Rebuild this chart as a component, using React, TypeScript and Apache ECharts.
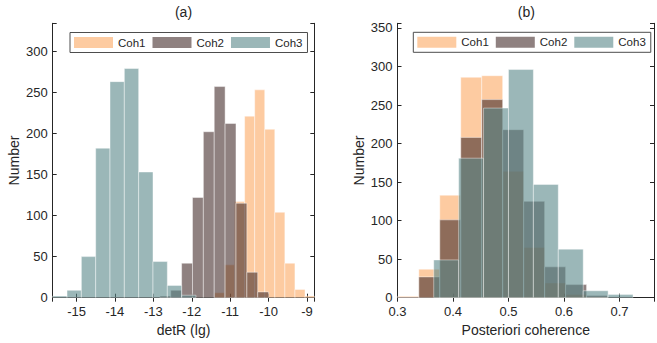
import React, { useEffect, useRef } from 'react';
import * as echarts from 'echarts';

// ---- Panel (a): detR (lg) histograms ----
const aCoh1Edges = [-11.41, -11.148, -10.886, -10.624, -10.362, -10.1, -9.838, -9.576, -9.314, -9.052, -8.79];
const aCoh1Counts = [6, 40, 117, 221, 253, 205, 104, 42, 10, 2];
const aCoh2Edges = [-12.83, -12.547, -12.264, -11.981, -11.698, -11.415, -11.132, -10.849, -10.566, -10.283, -10.0];
const aCoh2Counts = [2, 9, 42, 122, 202, 257, 212, 115, 31, 7];
const aCoh3Edges = [-15.62, -15.247, -14.874, -14.501, -14.128, -13.755, -13.382, -13.009, -12.636, -12.263, -11.89];
const aCoh3Counts = [2, 9, 50, 182, 263, 279, 153, 44, 15, 3];

// ---- Panel (b): posteriori coherence histograms ----
const bCoh12Edges = [0.3006, 0.3384, 0.3762, 0.414, 0.4518, 0.4896, 0.5274, 0.5652, 0.603, 0.6408, 0.6786];
const bCoh1Counts = [2, 37, 133, 286, 288, 164, 65, 19, 4, 1];
const bCoh2Counts = [1, 27, 101, 208, 257, 218, 125, 40, 17, 3];
const bCoh3Edges = [0.3653, 0.4102, 0.4551, 0.5, 0.5449, 0.5898, 0.6347, 0.6796, 0.7245];
const bCoh3Counts = [49, 181, 246, 296, 147, 63, 9, 4];

const seriesNames = ['Coh1', 'Coh2', 'Coh3'];
const titles = ['(a)', '(b)'];
const xNames = ['detR (lg)', 'Posteriori coherence'];
const yName = 'Number';

const FONT = '"Liberation Sans", Arial, Helvetica, sans-serif';
const INK = '#262626';
const COLORS = ['rgba(252,168,98,0.6)', 'rgba(68,45,43,0.6)', 'rgba(88,135,137,0.6)'];
const EDGE = 'rgba(255,255,255,0.55)';

function histSeries(name: string, edges: number[], counts: number[], color: string, axisIndex: number) {
  const data = counts.map((c, i) => [edges[i], edges[i + 1], c]);
  return {
    type: 'custom',
    name,
    xAxisIndex: axisIndex,
    yAxisIndex: axisIndex,
    data,
    itemStyle: { color },
    encode: { x: [0, 1], y: 2 },
    clip: true,
    renderItem: (params: any, api: any) => {
      const p0 = api.coord([api.value(0), api.value(2)]);
      const p1 = api.coord([api.value(1), 0]);
      const cs = params.coordSys;
      const shape = echarts.graphic.clipRectByRect(
        { x: p0[0], y: p0[1], width: p1[0] - p0[0], height: p1[1] - p0[1] },
        { x: cs.x, y: cs.y, width: cs.width, height: cs.height }
      );
      if (!shape) return null;
      return {
        type: 'rect',
        shape,
        style: { fill: color, stroke: EDGE, lineWidth: 0.8 },
      };
    },
  };
}

const isMult = (v: number, step: number) => Math.abs(v / step - Math.round(v / step)) < 1e-6;

export default function App() {
  const ref = useRef<HTMLDivElement>(null);

  useEffect(() => {
    if (!ref.current) return;
    const chart = echarts.init(ref.current, null, { renderer: 'svg' });

    const axisLine = { show: true, lineStyle: { color: INK, width: 1 } };
    const tickIn = { show: true, inside: true, length: 4, lineStyle: { color: INK, width: 1 } };
    const labelStyle = { fontFamily: FONT, fontSize: 13, color: INK };

    const grids = [
      { left: 52.7, top: 23.3, width: 261.6, height: 274.4 },
      { left: 397.5, top: 23.3, width: 257.5, height: 274.4 },
    ];

    const xRanges = [
      { min: -15.62, max: -8.81, step: 1, fmt: (v: number) => (isMult(v, 1) ? String(Math.round(v)) : '') },
      { min: 0.3, max: 0.7623, step: 0.1, fmt: (v: number) => (isMult(v, 0.1) ? (Math.round(v * 10) / 10).toFixed(1) : '') },
    ];
    const yRanges = [
      { min: 0, max: 334, step: 50 },
      { min: 0, max: 356, step: 50 },
    ];

    const xAxis: any[] = [];
    const yAxis: any[] = [];
    [0, 1].forEach((g) => {
      const xr = xRanges[g];
      const yr = yRanges[g];
      xAxis.push({
        type: 'value', gridIndex: g, position: 'bottom', min: xr.min, max: xr.max,
        minInterval: xr.step, maxInterval: xr.step,
        axisLine, axisTick: tickIn, splitLine: { show: false },
        axisLabel: { ...labelStyle, margin: 7, formatter: xr.fmt },
        name: xNames[g], nameLocation: 'middle', nameGap: 24,
        nameTextStyle: { fontFamily: FONT, fontSize: 14, color: INK },
      });
      xAxis.push({
        type: 'value', gridIndex: g, position: 'top', min: xr.min, max: xr.max,
        minInterval: xr.step, maxInterval: xr.step,
        axisLine, axisTick: tickIn, splitLine: { show: false }, axisLabel: { show: false },
      });
      const yfmt = (v: number) => (isMult(v, yr.step) ? String(Math.round(v)) : '');
      yAxis.push({
        type: 'value', gridIndex: g, position: 'left', min: yr.min, max: yr.max,
        minInterval: yr.step, maxInterval: yr.step,
        axisLine, axisTick: tickIn, splitLine: { show: false },
        axisLabel: { ...labelStyle, margin: 5, formatter: yfmt },
        name: yName, nameLocation: 'middle', nameGap: 32, nameRotate: 90,
        nameTextStyle: { fontFamily: FONT, fontSize: 14, color: INK },
      });
      yAxis.push({
        type: 'value', gridIndex: g, position: 'right', min: yr.min, max: yr.max,
        minInterval: yr.step, maxInterval: yr.step,
        axisLine, axisTick: tickIn, splitLine: { show: false }, axisLabel: { show: false },
      });
    });

    // series bound to bottom x (index 0 / 2) and left y (index 0 / 2)
    const mk = (name: string, edges: number[], counts: number[], color: string, g: number) => {
      const s: any = histSeries(name, edges, counts, color, g * 2);
      return s;
    };

    const legendBase = {
      data: seriesNames,
      orient: 'horizontal',
      icon: 'rect',
      itemWidth: 39,
      itemHeight: 11,
      itemGap: 7,
      padding: [4, 5, 4, 4],
      borderColor: '#4d4d4d',
      borderWidth: 1,
      backgroundColor: '#ffffff',
      selectedMode: false,
      textStyle: { fontFamily: FONT, fontSize: 11.5, color: INK },
    };

    chart.setOption({
      animation: false,
      backgroundColor: '#ffffff',
      title: [
        { text: titles[0], left: 183.5, top: 5, textAlign: 'center', padding: 0,
          textStyle: { fontFamily: FONT, fontSize: 14, fontWeight: 'normal', color: INK } },
        { text: titles[1], left: 526.3, top: 5, textAlign: 'center', padding: 0,
          textStyle: { fontFamily: FONT, fontSize: 14, fontWeight: 'normal', color: INK } },
      ],
      legend: [
        { ...legendBase, left: 70, top: 32.5 },
        { ...legendBase, left: 413.3, top: 32.3 },
      ],
      grid: grids,
      xAxis,
      yAxis,
      series: [
        mk(seriesNames[0], aCoh1Edges, aCoh1Counts, COLORS[0], 0),
        mk(seriesNames[1], aCoh2Edges, aCoh2Counts, COLORS[1], 0),
        mk(seriesNames[2], aCoh3Edges, aCoh3Counts, COLORS[2], 0),
        mk(seriesNames[0], bCoh12Edges, bCoh1Counts, COLORS[0], 1),
        mk(seriesNames[1], bCoh12Edges, bCoh2Counts, COLORS[1], 1),
        mk(seriesNames[2], bCoh3Edges, bCoh3Counts, COLORS[2], 1),
      ],
    });

    return () => chart.dispose();
  }, []);

  return (
    <div
      ref={ref}
      style={{ position: 'fixed', left: 0, top: 0, width: 657, height: 343, background: '#fff' }}
    />
  );
}
